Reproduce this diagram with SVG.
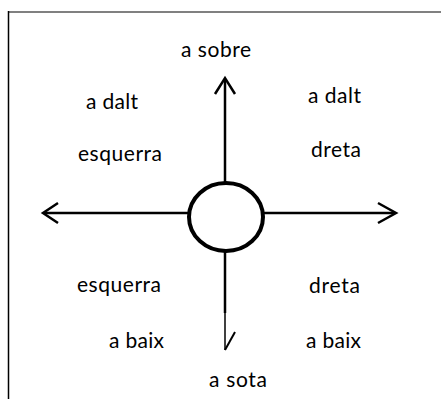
<svg xmlns="http://www.w3.org/2000/svg" width="441" height="399" viewBox="0 0 441 399">
<style>
.lbl{font-family:Lato,"Open Sans","Liberation Sans",sans-serif;font-size:21px;fill:#000}
.ln{stroke:#000;stroke-width:2.5;fill:none;stroke-linecap:butt}
.hd{stroke:#000;stroke-width:2.5;fill:none;stroke-linejoin:miter}
</style>
<rect width="441" height="399" fill="#fff"/>
<g id="frame">
<line x1="8" y1="12" x2="441" y2="12" stroke="#808080" stroke-width="2"/>
<line x1="8.5" y1="11" x2="8.5" y2="399" stroke="#000" stroke-width="1.5"/>
</g>
<g id="connectors">
<line class="ln" x1="225" y1="79" x2="225" y2="184"/>
<polyline class="hd" points="215,94 225,78 235,94"/>
<line class="ln" x1="44" y1="213" x2="189" y2="213"/>
<polyline class="hd" points="58,203 43,213 58,223"/>
<line class="ln" x1="263" y1="213" x2="395" y2="213"/>
<polyline class="hd" points="378,203 396,213 378,223"/>
<line class="ln" x1="225" y1="251" x2="225" y2="313"/>
<line x1="225" y1="312" x2="225" y2="350" stroke="#000" stroke-width="1.5"/>
<line x1="225" y1="350" x2="235" y2="332" stroke="#000" stroke-width="2"/>
</g>
<g id="center"><ellipse cx="226" cy="217" rx="37" ry="34" fill="#fff" stroke="#000" stroke-width="4"/></g>
<g id="label-a-sobre"><text class="lbl" x="181" y="57" textLength="70">a sobre</text></g>
<g id="label-a-dalt-left"><text class="lbl" x="86" y="109" textLength="52">a dalt</text></g>
<g id="label-a-dalt-right"><text class="lbl" x="308" y="103" textLength="53">a dalt</text></g>
<g id="label-esquerra-top"><text class="lbl" x="78" y="161" textLength="84">esquerra</text></g>
<g id="label-dreta-top"><text class="lbl" x="311" y="157" textLength="50">dreta</text></g>
<g id="label-esquerra-bottom"><text class="lbl" x="77" y="292" textLength="84">esquerra</text></g>
<g id="label-dreta-bottom"><text class="lbl" x="309" y="293" textLength="51">dreta</text></g>
<g id="label-a-baix-left"><text class="lbl" x="109" y="348" textLength="55">a baix</text></g>
<g id="label-a-baix-right"><text class="lbl" x="306" y="348" textLength="55">a baix</text></g>
<g id="label-a-sota"><text class="lbl" x="209" y="387" textLength="58">a sota</text></g>
</svg>
